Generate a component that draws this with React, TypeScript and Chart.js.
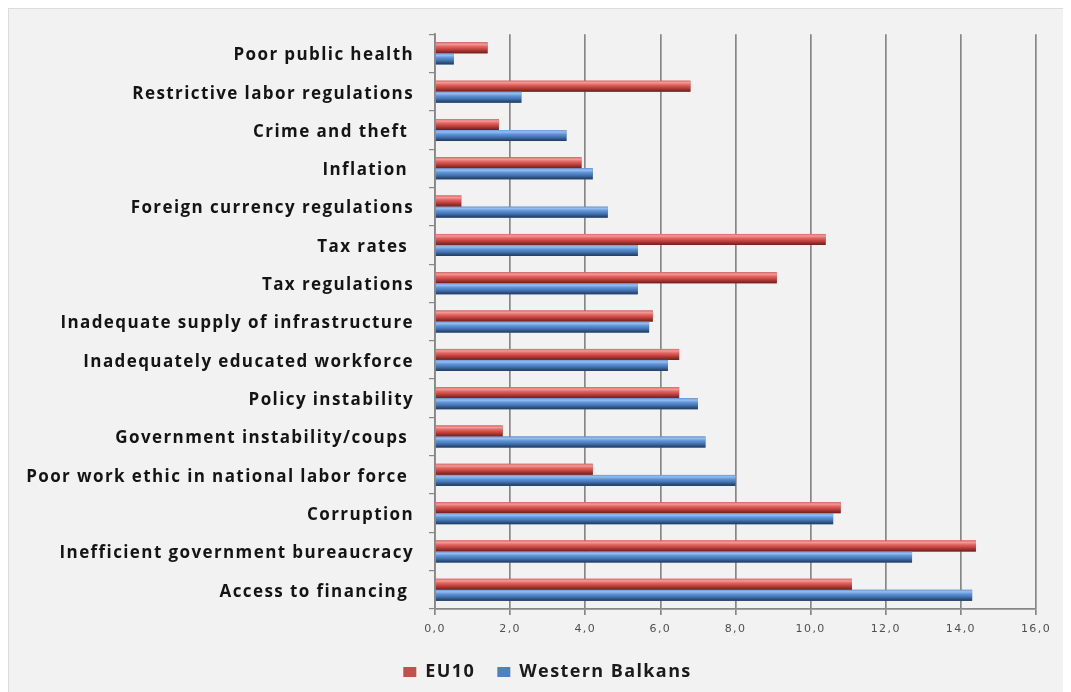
import React, { useEffect, useRef } from "react";
import { Chart, registerables } from "chart.js";

Chart.register(...registerables);

const categories = [
  "Poor public health",
  "Restrictive labor regulations",
  "Crime and theft ",
  "Inflation ",
  "Foreign currency regulations",
  "Tax rates ",
  "Tax regulations",
  "Inadequate supply of infrastructure",
  "Inadequately educated workforce",
  "Policy instability",
  "Government instability/coups ",
  "Poor work ethic in national labor force ",
  "Corruption",
  "Inefficient government bureaucracy",
  "Access to financing ",
];

const eu10 = [1.4, 6.8, 1.7, 3.9, 0.7, 10.4, 9.1, 5.8, 6.5, 6.5, 1.8, 4.2, 10.8, 14.4, 11.1];
const westernBalkans = [0.5, 2.3, 3.5, 4.2, 4.6, 5.4, 5.4, 5.7, 6.2, 7.0, 7.2, 8.0, 10.6, 12.7, 14.3];

const seriesNames = ["EU10", "Western Balkans"];
const xTicks = { min: 0, max: 16, step: 2 };

const RED = "#c0504d";
const BLUE = "#4f81bd";

const shades: Record<string, [number, string][]> = {
  [RED]: [
    [0, "#d86a67"],
    [0.18, "#f29a97"],
    [0.38, "#e26562"],
    [0.62, "#c5433f"],
    [0.85, "#8d2c29"],
    [1, "#6a201e"],
  ],
  [BLUE]: [
    [0, "#6d9bd6"],
    [0.18, "#95bdf0"],
    [0.38, "#5f94d8"],
    [0.62, "#4677b6"],
    [0.85, "#2d4f7e"],
    [1, "#213a5e"],
  ],
};

// paints a cylinder-like vertical shading over every horizontal bar
const cylinderBars = {
  id: "cylinderBars",
  afterDatasetsDraw(chart: any) {
    const ctx = chart.ctx;
    chart.data.datasets.forEach((ds: any, i: number) => {
      const meta = chart.getDatasetMeta(i);
      if (meta.hidden) return;
      const stops = shades[ds.backgroundColor];
      meta.data.forEach((bar: any) => {
        const { x, y, base, height } = bar.getProps(["x", "y", "base", "height"], true);
        const top = y - height / 2;
        const g = ctx.createLinearGradient(0, top, 0, top + height);
        stops.forEach(([o, c]) => g.addColorStop(o, c));
        ctx.save();
        ctx.fillStyle = g;
        ctx.fillRect(Math.min(base, x), top, Math.abs(x - base), height);
        ctx.restore();
      });
    });
  },
};

// slightly wider lettering for all chart text
const TRACKING = "1.4px";
const wideText = {
  id: "wideText",
  beforeUpdate(chart: any) {
    chart.ctx.letterSpacing = TRACKING;
  },
  beforeDraw(chart: any) {
    chart.ctx.letterSpacing = TRACKING;
  },
};

// moves the legend row a little to the right of the canvas centre
const LEGEND_SHIFT = 25;
const legendOffset = {
  id: "legendOffset",
  afterLayout(chart: any) {
    const lg = chart.legend;
    if (!lg) return;
    lg.left += LEGEND_SHIFT;
    lg.right += LEGEND_SHIFT;
  },
};

export default function App() {
  const ref = useRef<HTMLCanvasElement>(null);

  useEffect(() => {
    document.body.style.overflow = "hidden";
    const chart = new Chart(ref.current!, {
      type: "bar",
      data: {
        labels: categories,
        datasets: [
          { label: seriesNames[0], data: eu10, backgroundColor: RED, borderWidth: 0 },
          { label: seriesNames[1], data: westernBalkans, backgroundColor: BLUE, borderWidth: 0 },
        ],
      },
      options: {
        indexAxis: "y",
        responsive: false,
        animation: false,
        devicePixelRatio: 1,
        categoryPercentage: 0.575,
        barPercentage: 1,
        layout: { padding: { top: 25, right: 35, bottom: 1, left: 0 } },
        plugins: {
          tooltip: { enabled: false },
          legend: {
            position: "bottom",
            labels: {
              boxWidth: 13,
              boxHeight: 10,
              padding: 10,
              color: "#1a1a1a",
              font: { family: "Open Sans", weight: "bold", size: 18 },
              generateLabels(chart: any) {
                const items = Chart.defaults.plugins.legend.labels.generateLabels(chart);
                // extra room after the first entry
                return items.map((it: any, i: number) =>
                  i === 0 ? { ...it, text: it.text + "  " } : it
                );
              },
            },
          },
        },
        scales: {
          x: {
            min: xTicks.min,
            max: xTicks.max,
            afterFit(scale: any) {
              scale.height = 44;
            },
            ticks: {
              stepSize: xTicks.step,
              padding: 8,
              color: "#4f4f4f",
              font: { family: "DejaVu Sans", size: 11 },
              callback: (v: any) => Number(v).toFixed(1).replace(".", ","),
            },
            grid: { color: "#878787", lineWidth: 1.7, tickLength: 6, tickColor: "#878787" },
            border: { color: "#878787", width: 1.7 },
          },
          y: {
            afterFit(scale: any) {
              scale.width = 426;
            },
            ticks: {
              padding: 15,
              labelOffset: 2,
              color: "#141414",
              font: { family: "Open Sans", weight: "bold", size: 17 },
            },
            grid: {
              offset: true,
              drawOnChartArea: false,
              tickLength: 6,
              tickColor: "#878787",
              lineWidth: 1.2,
            },
            border: { color: "#878787", width: 1.7 },
          },
        },
      },
      plugins: [wideText, legendOffset, cylinderBars],
    });
    return () => chart.destroy();
  }, []);

  return (
    <div
      style={{
        background: "#f2f2f2",
        borderTop: "1px solid #dcdcdc",
        borderLeft: "1px solid #dcdcdc",
        width: 1100,
        height: 700,
      }}
    >
      <canvas ref={ref} width={1062} height={683} style={{ display: "block" }} />
    </div>
  );
}
